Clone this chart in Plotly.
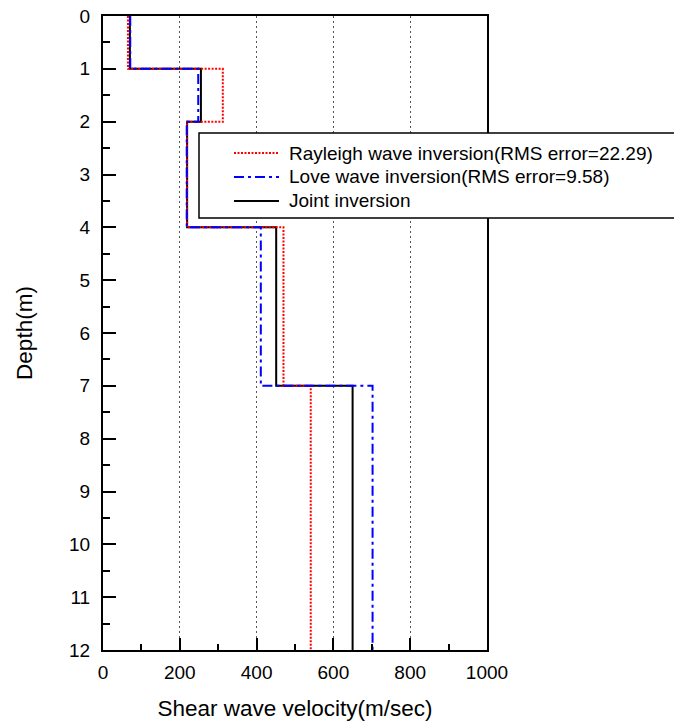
import plotly.graph_objects as go

# Layer boundaries (depth, m) and layer velocities (m/s)
depth_bounds = [0, 1, 2, 4, 7, 12]
rayleigh_vs = [65, 312, 219, 470, 541]
love_vs = [71, 248, 218, 411, 702]
joint_vs = [70, 255, 219, 451, 650]

series_names = [
    "Rayleigh wave inversion(RMS error=22.29)",
    "Love wave inversion(RMS error=9.58)",
    "Joint inversion",
]
x_ticks = [0, 200, 400, 600, 800, 1000]
y_ticks = list(range(0, 13))

FONT = "Liberation Sans, Arial, Helvetica, sans-serif"
W, H = 674, 726
PL, PR, PT, PB = 103, 487, 16, 650  # plot area in page pixels
ML, MT = PL, PT
MR, MB = W - PR, H - PB
PW, PH = PR - PL, PB - PT


def step_xy(vs):
    xs = [vs[0]] + list(vs)
    ys = list(depth_bounds)
    return xs, ys


styles = {
    "ray": dict(color="#ff0000", width=2, dash="2px,1.5px"),
    "love": dict(color="#0000ff", width=2, dash="10px,4px,3px,4px"),
    "joint": dict(color="#000000", width=2, dash="solid"),
}

fig = go.Figure()
for key, vs, name in [("joint", joint_vs, series_names[2]),
                      ("ray", rayleigh_vs, series_names[0]),
                      ("love", love_vs, series_names[1])]:
    xs, ys = step_xy(vs)
    fig.add_trace(go.Scatter(x=xs, y=ys, mode="lines", line_shape="hv",
                             line=styles[key], name=name, showlegend=False))


# manual legend (paper coordinates computed from page-pixel layout)
def px_x(p):
    return (p - PL) / PW


def px_y(p):
    return (PB - p) / PH


shapes = [dict(type="rect", xref="paper", yref="paper",
               x0=px_x(199), x1=px_x(700), y0=px_y(218), y1=px_y(133),
               line=dict(color="black", width=1.5), fillcolor="white", layer="above")]
annotations = []
for i, (key, name) in enumerate(zip(["ray", "love", "joint"], series_names)):
    yy = px_y(153 + 24 * i)
    shapes.append(dict(type="line", xref="paper", yref="paper",
                       x0=px_x(234), x1=px_x(279), y0=yy, y1=yy,
                       line=styles[key], layer="above"))
    annotations.append(dict(xref="paper", yref="paper", x=px_x(287), y=yy,
                            text=name, showarrow=False, xanchor="left",
                            yanchor="middle", font=dict(size=19, color="black", family=FONT)))

fig.update_layout(
    width=W, height=H,
    margin=dict(l=ML, r=MR, t=MT, b=MB, autoexpand=False),
    paper_bgcolor="white", plot_bgcolor="white",
    font=dict(family=FONT, size=19, color="black"),
    shapes=shapes, annotations=annotations,
    showlegend=False,
)
fig.update_xaxes(
    range=[0, 1000], tickvals=x_ticks, ticks="inside", ticklen=12, tickwidth=2,
    tickcolor="black", showline=True, linecolor="black", linewidth=2, mirror=True,
    showgrid=True, gridcolor="#555555", gridwidth=1, griddash="2px,3px",
    zeroline=False, ticklabelstandoff=4, ticklabeloverflow="allow",
    minor=dict(dtick=100, ticks="inside", ticklen=6, tickwidth=2, tickcolor="black", showgrid=False),
    title=dict(text="Shear wave velocity(m/sec)", font=dict(size=22.5), standoff=18),
)
fig.update_yaxes(
    range=[12, 0], tickvals=y_ticks, ticks="inside", ticklen=13, tickwidth=2,
    tickcolor="black", showline=True, linecolor="black", linewidth=2, mirror=True,
    showgrid=False, zeroline=False, ticklabelstandoff=7, ticklabeloverflow="allow",
    minor=dict(dtick=0.5, ticks="inside", ticklen=7, tickwidth=2, tickcolor="black", showgrid=False),
    title=dict(text="Depth(m)", font=dict(size=22.5), standoff=30),
)

fig.write_html("out.html", config={"displayModeBar": False},
               post_script="document.body.style.margin='0';")
